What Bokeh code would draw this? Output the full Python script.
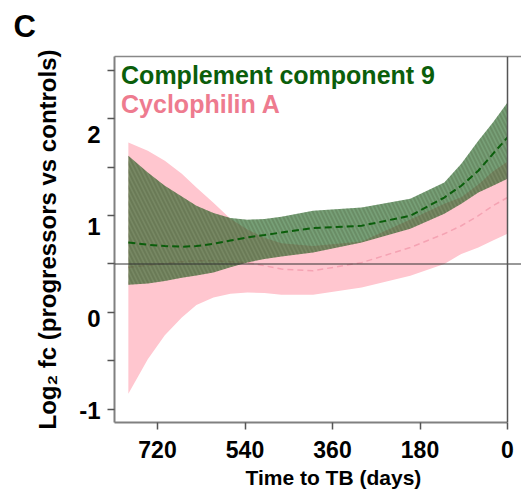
from bokeh.plotting import figure
from bokeh.models import Range1d, LinearAxis, FixedTicker, Span, Label, Title
from bokeh.embed import file_html
from bokeh.resources import INLINE

# ---- data ----
days = [780, 740, 705, 670, 640, 605, 570, 535, 500, 465, 400, 300, 200, 130, 95, 60, 30, 0]

c9_mean = [0.829, 0.804, 0.790, 0.783, 0.790, 0.815, 0.850, 0.884, 0.910, 0.938,
           0.986, 1.011, 1.120, 1.318, 1.446, 1.609, 1.793, 1.971]
c9_lower = [0.370, 0.384, 0.410, 0.446, 0.470, 0.503, 0.560, 0.612, 0.650, 0.677,
            0.721, 0.829, 0.978, 1.141, 1.250, 1.373, 1.446, 1.522]
c9_upper = [1.772, 1.590, 1.446, 1.330, 1.228, 1.150, 1.095, 1.076, 1.085, 1.109,
            1.174, 1.210, 1.304, 1.482, 1.685, 1.935, 2.134, 2.351]

cypa_mean = [0.560, 0.580, 0.600, 0.620, 0.630, 0.630, 0.620, 0.610, 0.576, 0.540,
             0.522, 0.610, 0.775, 0.924, 1.011, 1.120, 1.228, 1.318]
cypa_lower = [-0.815, -0.440, -0.180, 0.014, 0.150, 0.232, 0.272, 0.286, 0.280, 0.261,
              0.261, 0.340, 0.467, 0.595, 0.705, 0.775, 0.850, 0.924]
cypa_upper = [1.916, 1.826, 1.717, 1.576, 1.427, 1.261, 1.087, 0.970, 0.880, 0.820,
              0.790, 0.840, 1.080, 1.250, 1.320, 1.460, 1.600, 1.710]

x_ticks = [720, 540, 360, 180, 0]
y_label_ticks = [-1, 0, 1, 2]
y_minor_marks = [-1, -0.5, 0, 0.5, 1, 1.5, 2, 2.5]
ref_level = 0.595

series_names = ["Complement component 9", "Cyclophilin A"]
panel_letter = "C"
GREEN = "#0b5e0b"
PINK = "#ee7b8f"
FONT = "Liberation Sans"

p = figure(width=521, height=495, output_backend="svg", toolbar_location=None,
           x_range=Range1d(808.5, -28.8), y_range=Range1d(-1.128, 2.851),
           x_axis_location=None, y_axis_location=None,
           min_border_left=114, min_border_right=0, min_border_top=56, min_border_bottom=73)
p.extra_y_ranges = {"tk": Range1d(-1.138, 2.643)}
p.outline_line_color = None
p.background_fill_color = "white"
p.border_fill_color = "white"

# bands and means
p.varea(x=days, y1=cypa_lower, y2=cypa_upper, fill_color="#ffc6cf", fill_alpha=1.0)
p.line(x=days, y=cypa_mean, line_color="#f5a3b3", line_width=1.5, line_dash="6 4")
p.varea(x=days, y1=c9_lower, y2=c9_upper, fill_color="#145c14", fill_alpha=0.58,
        hatch_pattern="\\", hatch_color="#3a4a2a", hatch_alpha=0.22, hatch_scale=8, hatch_weight=2)
p.line(x=days, y=c9_mean, line_color=GREEN, line_width=2, line_dash="7 4")

p.add_layout(Span(location=ref_level, dimension="width", line_color="#333333", line_width=1))
p.add_layout(Span(location=0, dimension="height", line_color="#555555", line_width=1.5))

# axes
tick_axis = LinearAxis(y_range_name="tk", ticker=FixedTicker(ticks=y_minor_marks),
                       major_label_overrides={t: "" for t in y_minor_marks},
                       major_label_standoff=0, major_tick_out=7, major_tick_in=0,
                       major_tick_line_color="#555555", major_tick_line_width=1.5,
                       minor_tick_out=0, minor_tick_in=0,
                       axis_line_color="#808080", axis_line_width=2)
p.add_layout(tick_axis, "left")

label_axis = LinearAxis(ticker=FixedTicker(ticks=y_label_ticks),
                        major_label_overrides={-1: "-1"},
                        major_tick_out=0, major_tick_in=0, minor_tick_out=0, minor_tick_in=0,
                        axis_line_color=None, major_label_standoff=7,
                        major_label_text_font=FONT, major_label_text_font_style="bold",
                        major_label_text_font_size="24px", major_label_text_color="black",
                        axis_label="Log\u2082 fc (progressors vs controls)",
                        axis_label_text_font=FONT, axis_label_text_font_style="bold",
                        axis_label_text_font_size="24px", axis_label_text_color="black",
                        axis_label_standoff=15)
p.add_layout(label_axis, "left")

xaxis = LinearAxis(ticker=FixedTicker(ticks=x_ticks), bounds=(0, 808.5),
                   major_tick_out=7, major_tick_in=0, minor_tick_out=0, minor_tick_in=0,
                   major_tick_line_color="#555555", major_tick_line_width=1.5,
                   axis_line_color="#808080", axis_line_width=2,
                   major_label_standoff=11,
                   major_label_text_font=FONT, major_label_text_font_style="bold",
                   major_label_text_font_size="23px", major_label_text_color="black")
p.add_layout(xaxis, "below")
p.add_layout(Title(text="Time to TB (days)", align="left", offset=131, standoff=6,
                   text_font=FONT, text_font_style="bold", text_font_size="21px",
                   text_color="black"), "below")

top_axis = LinearAxis(ticker=FixedTicker(ticks=[]), major_tick_out=0, major_tick_in=0,
                      minor_tick_out=0, minor_tick_in=0, major_label_standoff=0,
                      axis_line_color="#888888", axis_line_width=1.5)
p.add_layout(top_axis, "above")

# panel letter in the top-left margin (empty second line lifts it)
p.add_layout(Title(text=panel_letter + "\n ", align="left", offset=-101, standoff=4,
                   text_line_height=0.3,
                   text_font=FONT, text_font_style="bold", text_font_size="31px",
                   text_color="black"), "above")

# legend texts
p.add_layout(Label(x=795, y=2.652, text=series_names[0], text_color=GREEN,
                   text_font=FONT, text_font_style="bold", text_font_size="25px",
                   text_baseline="alphabetic"))
p.add_layout(Label(x=795, y=2.337, text=series_names[1], text_color=PINK,
                   text_font=FONT, text_font_style="bold", text_font_size="25px",
                   text_baseline="alphabetic"))

p.xgrid.visible = False
p.ygrid.visible = False

open("out.html", "w").write(file_html(p, INLINE))
